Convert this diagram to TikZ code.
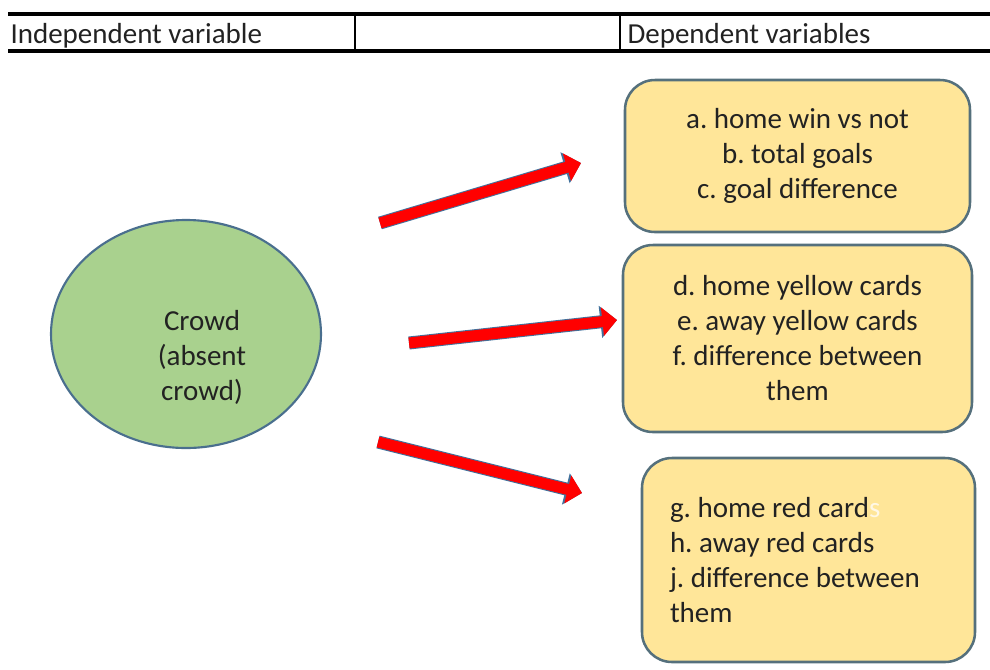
\documentclass[tikz,border=0pt]{standalone}
\usepackage{fontspec}
\setmainfont{Carlito}
\usetikzlibrary{arrows.meta,shapes.geometric}
\frenchspacing

\definecolor{crowdfill}{HTML}{A9D18E}
\definecolor{crowdedge}{HTML}{4A6F8E}
\definecolor{boxfill}{HTML}{FFE699}
\definecolor{boxedge}{HTML}{55707C}
\definecolor{arrowedge}{HTML}{41719C}
\definecolor{txt}{HTML}{222222}
\definecolor{faint}{HTML}{FFF8E6}

\tikzset{every picture/.style={line width=0.75pt}}
\tikzset{
  bodyfont/.style={font=\fontsize{21.75}{26.25}\selectfont, text=txt},
  hdr/.style={bodyfont, anchor=base west, inner sep=0pt},
  varbox/.style={bodyfont, draw=boxedge, fill=boxfill, line width=1.9pt, rounded corners=22.5pt, align=center, inner sep=0pt},
  redarrow/.style={draw=red, line width=8.25pt, -{Triangle[length=11pt,width=21pt]},
    preaction={draw=arrowedge, line width=9.75pt, -{Triangle[length=12.5pt,width=23.5pt]}}}
}

\begin{document}
\begin{tikzpicture}[x=0.75pt,y=0.75pt,yscale=-1,xscale=1]
  \useasboundingbox (0,0) rectangle (990,669);

  %Table header
  \draw [line width=2.6pt] (8,14) -- (990,14) ;
  \draw [line width=2.3pt] (8,51) -- (990,51) ;
  \draw [line width=1.8pt] (355,14) -- (355,51) ;
  \draw [line width=1.8pt] (620,14) -- (620,51) ;
  \node [hdr] (indep) at (10,43) {Independent variable};
  \node [hdr] (dep) at (627,43) {Dependent variables};

  %Shape: Ellipse
  \node [ellipse, draw=crowdedge, fill=crowdfill, line width=1.6pt, minimum width=202.5pt, minimum height=171pt, inner sep=0pt] (crowd) at (186,334) {};
  \node [bodyfont, align=center, inner sep=0pt] (crowdtext) at (202,357) {Crowd\\(absent\\crowd)};

  %Rounded Rect
  \node [varbox, minimum width=258.75pt, minimum height=114pt] (goals) at (797.5,156)
    {a. home win vs not\\b. total goals\\c. goal difference};
  %Rounded Rect
  \node [varbox, minimum width=261.75pt, minimum height=140.25pt] (yellow) at (797.5,338.5)
    {d. home yellow cards\\e. away yellow cards\\f. difference between\\them};
  %Rounded Rect
  \node [varbox, align=flush left, text width=207.75pt, inner xsep=21pt, minimum height=153pt] (red) at (808.5,560)
    {g. home red card\textcolor{faint}{s}\\h. away red cards\\j. difference between\\them};

  %Block Arrows
  \coordinate (a1) at (380,223) ;
  \coordinate (b1) at (581,163) ;
  \coordinate (a2) at (409,343) ;
  \coordinate (b2) at (617,320) ;
  \coordinate (a3) at (378,442) ;
  \coordinate (b3) at (582,493) ;
  \draw [redarrow] (a1) -- (b1) ;
  \draw [redarrow] (a2) -- (b2) ;
  \draw [redarrow] (a3) -- (b3) ;
\end{tikzpicture}
\end{document}
